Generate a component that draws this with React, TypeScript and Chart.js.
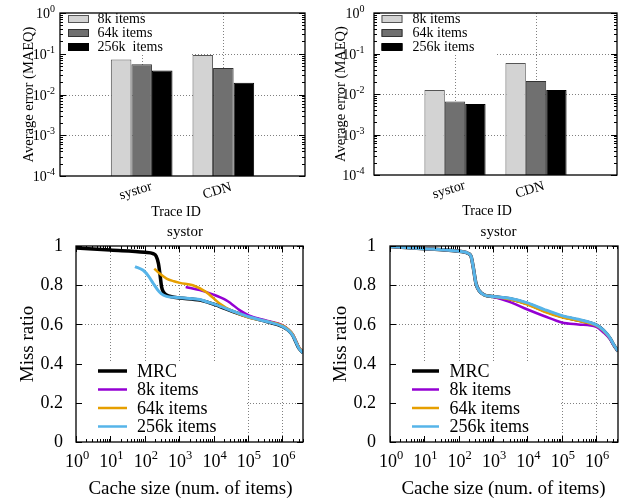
import React, { useEffect, useRef } from 'react';
import { Chart, registerables } from 'chart.js';

Chart.register(...registerables);

const SERIF = '"Liberation Serif", "Times New Roman", Times, serif';

// ---------------- Top panels: average error (MAEQ) per trace ----------------
const TRACES = ['', 'systor', 'CDN', ''];
const LEFT_LEGEND = ['8k items', '64k items', '256k  items'];
const RIGHT_LEGEND = ['8k items', '64k items', '256k items'];
const LEFT_ERR_8K = [null, 0.072, 0.093, null];
const LEFT_ERR_64K = [null, 0.055, 0.045, null];
const LEFT_ERR_256K = [null, 0.039, 0.0195, null];
const RIGHT_ERR_8K = [null, 0.0126, 0.058, null];
const RIGHT_ERR_64K = [null, 0.0065, 0.021, null];
const RIGHT_ERR_256K = [null, 0.0057, 0.0126, null];
const ERR_EXPONENTS = [0, -1, -2, -3, -4];
const BAR_FILLS = ['#d3d3d3', '#707070', '#000000'];
const BAR_EDGES = ['#555555', '#333333', '#000000'];

// ---------------- Bottom panels: miss ratio curves ----------------
const CURVE_NAMES = ['MRC', '8k items', '64k items', '256k items'];
const CURVE_COLORS = ['#000000', '#9400d3', '#e69f00', '#56b4e9'];
const CURVE_WIDTHS = [3.5, 2.5, 2.5, 3];
const MISS_TICKS = [0, 0.2, 0.4, 0.6, 0.8, 1];
const SIZE_EXPONENTS = [0, 1, 2, 3, 4, 5, 6];

type Pt = [number, number];

const LEFT_MRC: Pt[] = [[1, 0.99], [10, 0.979], [100, 0.968], [175, 0.961], [215, 0.948], [250, 0.91], [275, 0.86], [310, 0.79], [350, 0.765], [430, 0.75], [600, 0.741], [1000, 0.735], [4000, 0.724], [12000, 0.699], [37000, 0.665], [110000, 0.637], [350000, 0.614], [1000000, 0.59], [1500000, 0.57], [2000000, 0.545], [2500000, 0.51], [3000000, 0.48], [4000000, 0.455]];
const LEFT_8K: Pt[] = [[1550, 0.791], [4000, 0.775], [10000, 0.752], [23000, 0.724], [32000, 0.707], [57000, 0.673], [110000, 0.645], [350000, 0.619], [1000000, 0.596], [1500000, 0.575], [2000000, 0.55], [2500000, 0.515], [3000000, 0.485], [4000000, 0.46]];
const LEFT_64K: Pt[] = [[190, 0.885], [260, 0.862], [430, 0.834], [700, 0.82], [1050, 0.812], [2500, 0.8], [6000, 0.766], [15000, 0.707], [37000, 0.666], [110000, 0.634], [350000, 0.616], [1000000, 0.595], [1500000, 0.574], [2000000, 0.55], [2500000, 0.515], [3000000, 0.485], [4000000, 0.46]];
const LEFT_256K: Pt[] = [[52, 0.895], [90, 0.876], [130, 0.845], [175, 0.81], [240, 0.775], [300, 0.757], [430, 0.743], [700, 0.738], [1600, 0.734], [4000, 0.727], [6000, 0.717], [12000, 0.7], [37000, 0.667], [110000, 0.638], [350000, 0.615], [1000000, 0.59], [1500000, 0.57], [2000000, 0.545], [2500000, 0.51], [3000000, 0.48], [4000000, 0.455]];

const RIGHT_MRC: Pt[] = [[1, 0.997], [10, 0.986], [100, 0.973], [200, 0.96], [230, 0.945], [265, 0.89], [316, 0.81], [400, 0.77], [560, 0.75], [1000, 0.742], [3000, 0.731], [10000, 0.706], [30000, 0.672], [100000, 0.641], [300000, 0.622], [1000000, 0.596], [1600000, 0.57], [2500000, 0.53], [3200000, 0.497], [4300000, 0.463]];
const RIGHT_8K: Pt[] = [[1, 0.997], [10, 0.986], [100, 0.973], [200, 0.96], [230, 0.945], [265, 0.89], [316, 0.81], [400, 0.77], [560, 0.75], [1000, 0.741], [3000, 0.715], [10000, 0.676], [30000, 0.643], [100000, 0.61], [300000, 0.6], [1000000, 0.588], [1600000, 0.56], [2500000, 0.525], [3200000, 0.495], [4300000, 0.463]];
const RIGHT_64K: Pt[] = [[1, 0.997], [10, 0.986], [100, 0.973], [200, 0.96], [230, 0.945], [265, 0.89], [316, 0.81], [400, 0.77], [560, 0.75], [1000, 0.742], [3000, 0.728], [10000, 0.701], [30000, 0.666], [100000, 0.636], [300000, 0.618], [1000000, 0.594], [1600000, 0.569], [2500000, 0.53], [3200000, 0.497], [4300000, 0.463]];
const RIGHT_256K: Pt[] = [[1, 0.997], [10, 0.986], [100, 0.973], [200, 0.96], [230, 0.945], [265, 0.89], [316, 0.81], [400, 0.77], [560, 0.75], [1000, 0.742], [3000, 0.733], [10000, 0.71], [30000, 0.677], [100000, 0.645], [300000, 0.626], [1000000, 0.598], [1600000, 0.572], [2500000, 0.532], [3200000, 0.498], [4300000, 0.463]];

// ---------------- drawing helpers ----------------
function seg(ctx: CanvasRenderingContext2D, x1: number, y1: number, x2: number, y2: number) {
  ctx.beginPath();
  ctx.moveTo(x1, y1);
  ctx.lineTo(x2, y2);
  ctx.stroke();
}

function pow10(ctx: CanvasRenderingContext2D, exp: number, x: number, baseline: number, align: 'right' | 'center', baseSize: number, expSize: number, raise: number) {
  const base = '10';
  const sup = String(exp);
  ctx.font = `${baseSize}px ${SERIF}`;
  const wb = ctx.measureText(base).width;
  ctx.font = `${expSize}px ${SERIF}`;
  const we = ctx.measureText(sup).width;
  const total = wb + we;
  const x0 = align === 'right' ? x - total : x - total / 2;
  ctx.textAlign = 'left';
  ctx.textBaseline = 'alphabetic';
  ctx.font = `${baseSize}px ${SERIF}`;
  ctx.fillText(base, x0, baseline);
  ctx.font = `${expSize}px ${SERIF}`;
  ctx.fillText(sup, x0 + wb, baseline - raise);
}

interface BarGeom {
  W: number; H: number; l: number; r: number; t: number; b: number;
  labelRight: number; yTitleX: number; boxR: number; boxB: number;
  keyX0: number; keyX1: number; keyTextX: number; traceX: number;
}

function BarPanel({ g, series, legend, left, top }: { g: BarGeom; series: (number | null)[][]; legend: string[]; left: number; top: number }) {
  const ref = useRef<HTMLCanvasElement>(null);
  useEffect(() => {
    const canvas = ref.current!;
    const decor = {
      id: 'barDecor',
      beforeDatasetsDraw(chart: any) {
        const { ctx, chartArea: a, scales } = chart;
        const xs = scales.x, ys = scales.y;
        ctx.save();
        ctx.strokeStyle = '#808080';
        ctx.lineWidth = 1;
        ctx.setLineDash([1, 2]);
        for (const e of [-1, -2, -3]) {
          const y = Math.round(ys.getPixelForValue(Math.pow(10, e))) + 0.5;
          seg(ctx, a.left, y, a.right, y);
        }
        for (const i of [1, 2]) {
          const x = Math.round(xs.getPixelForValue(i)) + 0.5;
          seg(ctx, x, a.top, x, a.bottom);
        }
        ctx.setLineDash([]);
        ctx.fillStyle = '#ffffff';
        ctx.fillRect(a.left + 1, a.top + 1, g.boxR - a.left - 1, g.boxB - a.top - 1);
        ctx.restore();
      },
      afterDatasetsDraw(chart: any) {
        const { ctx, chartArea: a, scales } = chart;
        const xs = scales.x, ys = scales.y;
        ctx.save();
        ctx.strokeStyle = '#000';
        ctx.lineWidth = 1;
        for (const e of ERR_EXPONENTS) {
          const y = Math.round(ys.getPixelForValue(Math.pow(10, e))) + 0.5;
          seg(ctx, a.left, y, a.left + 6, y);
          seg(ctx, a.right - 6, y, a.right, y);
          if (e < 0) {
            for (let m = 2; m <= 9; m++) {
              const ym = Math.round(ys.getPixelForValue(m * Math.pow(10, e))) + 0.5;
              seg(ctx, a.left, ym, a.left + 3, ym);
              seg(ctx, a.right - 3, ym, a.right, ym);
            }
          }
        }
        ctx.lineWidth = 1.3;
        ctx.strokeRect(a.left, a.top, a.right - a.left, a.bottom - a.top);
        ctx.fillStyle = '#000';
        for (const e of ERR_EXPONENTS) {
          const y = ys.getPixelForValue(Math.pow(10, e));
          pow10(ctx, e, g.labelRight, y + 5, 'right', 14, 10, 6);
        }
        // y title
        ctx.save();
        ctx.translate(g.yTitleX, (a.top + a.bottom) / 2);
        ctx.rotate(-Math.PI / 2);
        ctx.font = `14.5px ${SERIF}`;
        ctx.textAlign = 'center';
        ctx.textBaseline = 'middle';
        ctx.fillText('Average error (MAEQ)', 0, 0);
        ctx.restore();
        // category labels
        for (const i of [1, 2]) {
          const x = xs.getPixelForValue(i);
          ctx.save();
          ctx.translate(x - 6, a.bottom + 15);
          ctx.rotate(-17 * Math.PI / 180);
          ctx.font = `14px ${SERIF}`;
          ctx.textAlign = 'center';
          ctx.textBaseline = 'middle';
          ctx.fillText(TRACES[i], 0, 0);
          ctx.restore();
        }
        ctx.font = `14px ${SERIF}`;
        ctx.textAlign = 'center';
        ctx.textBaseline = 'middle';
        ctx.fillText('Trace ID', g.traceX, a.bottom + 36);
        // legend
        legend.forEach((name, k) => {
          const yc = a.top + 6 + k * 14;
          ctx.fillStyle = BAR_FILLS[k];
          ctx.fillRect(g.keyX0, yc - 3.5, g.keyX1 - g.keyX0, 7);
          ctx.strokeStyle = BAR_EDGES[k];
          ctx.lineWidth = 1;
          ctx.strokeRect(g.keyX0 + 0.5, yc - 3.5, g.keyX1 - g.keyX0 - 1, 7);
          ctx.fillStyle = '#000';
          ctx.font = `14px ${SERIF}`;
          ctx.textAlign = 'left';
          ctx.textBaseline = 'middle';
          ctx.fillText(name, g.keyTextX, yc);
        });
        ctx.restore();
      },
    };
    const chart = new Chart(canvas, {
      type: 'bar',
      data: {
        labels: TRACES,
        datasets: series.map((d, k) => ({
          label: RIGHT_LEGEND[k],
          data: d as any,
          backgroundColor: BAR_FILLS[k],
          borderColor: BAR_EDGES[k],
          borderWidth: 1,
          categoryPercentage: 0.755,
          barPercentage: 1,
        })),
      },
      options: {
        animation: false,
        responsive: false,
        devicePixelRatio: 1,
        events: [],
        layout: { padding: { left: g.l, right: g.W - g.r, top: g.t, bottom: g.H - g.b } },
        plugins: { legend: { display: false }, tooltip: { enabled: false }, title: { display: false } },
        scales: {
          x: { type: 'category', offset: false, display: false, grid: { offset: false } },
          y: { type: 'logarithmic', min: 1e-4, max: 1, display: false },
        },
      } as any,
      plugins: [decor],
    });
    return () => chart.destroy();
  }, []);
  return <canvas ref={ref} width={g.W} height={g.H} style={{ position: 'absolute', left, top, width: g.W, height: g.H }} />;
}

interface MrcGeom {
  W: number; H: number; l: number; r: number; t: number; b: number; xMax: number;
  labelRight: number; yTitleX: number; titleX: number; xTitleX: number;
  keyX0: number; keyX1: number; keyTextX: number; keyY: number[];
}

function MrcPanel({ g, curves, left, top }: { g: MrcGeom; curves: Pt[][]; left: number; top: number }) {
  const ref = useRef<HTMLCanvasElement>(null);
  useEffect(() => {
    const canvas = ref.current!;
    const decor = {
      id: 'mrcDecor',
      beforeDatasetsDraw(chart: any) {
        const { ctx, chartArea: a, scales } = chart;
        const xs = scales.x, ys = scales.y;
        ctx.save();
        ctx.strokeStyle = '#808080';
        ctx.lineWidth = 1;
        ctx.setLineDash([1, 2]);
        for (const v of MISS_TICKS.slice(1, -1)) {
          const y = Math.round(ys.getPixelForValue(v)) + 0.5;
          seg(ctx, a.left, y, a.right, y);
        }
        for (const e of SIZE_EXPONENTS.slice(1)) {
          const x = Math.round(xs.getPixelForValue(Math.pow(10, e))) + 0.5;
          seg(ctx, x, a.top, x, a.bottom);
        }
        ctx.setLineDash([]);
        const bx = xs.getPixelForValue(1e5) - 1;
        const by = ys.getPixelForValue(0.4) - 1.5;
        ctx.fillStyle = '#ffffff';
        ctx.fillRect(a.left + 1, by, bx - a.left - 1, a.bottom - by - 1);
        ctx.restore();
      },
      afterDatasetsDraw(chart: any) {
        const { ctx, chartArea: a, scales } = chart;
        const xs = scales.x, ys = scales.y;
        ctx.save();
        ctx.strokeStyle = '#000';
        ctx.lineWidth = 1;
        for (const e of SIZE_EXPONENTS) {
          const x = Math.round(xs.getPixelForValue(Math.pow(10, e))) + 0.5;
          seg(ctx, x, a.bottom, x, a.bottom - 6);
          seg(ctx, x, a.top, x, a.top + 6);
          for (let m = 2; m <= 9; m++) {
            const v = m * Math.pow(10, e);
            if (v > g.xMax) break;
            const xm = Math.round(xs.getPixelForValue(v)) + 0.5;
            seg(ctx, xm, a.bottom, xm, a.bottom - 3);
            seg(ctx, xm, a.top, xm, a.top + 3);
          }
        }
        for (const v of MISS_TICKS) {
          const y = Math.round(ys.getPixelForValue(v)) + 0.5;
          seg(ctx, a.left, y, a.left + 6, y);
          seg(ctx, a.right - 6, y, a.right, y);
        }
        ctx.lineWidth = 1.3;
        ctx.strokeRect(a.left, a.top, a.right - a.left, a.bottom - a.top);
        ctx.fillStyle = '#000';
        // y tick labels
        ctx.font = `18px ${SERIF}`;
        ctx.textAlign = 'right';
        ctx.textBaseline = 'middle';
        for (const v of MISS_TICKS) {
          ctx.fillText(String(v), g.labelRight, ys.getPixelForValue(v) + 0.5);
        }
        // x tick labels
        for (const e of SIZE_EXPONENTS) {
          pow10(ctx, e, xs.getPixelForValue(Math.pow(10, e)) + 1, a.bottom + 25, 'center', 18, 12.5, 8);
        }
        // titles
        ctx.font = `15px ${SERIF}`;
        ctx.textAlign = 'center';
        ctx.textBaseline = 'middle';
        ctx.fillText('systor', g.titleX, a.top - 14);
        ctx.font = `19px ${SERIF}`;
        ctx.fillText('Cache size (num. of items)', g.xTitleX, a.bottom + 47);
        ctx.save();
        ctx.translate(g.yTitleX, (a.top + a.bottom) / 2);
        ctx.rotate(-Math.PI / 2);
        ctx.fillText('Miss ratio', 0, 0);
        ctx.restore();
        // legend
        CURVE_NAMES.forEach((name, k) => {
          const y = g.keyY[k];
          ctx.strokeStyle = CURVE_COLORS[k];
          ctx.lineWidth = k === 0 ? 3.5 : 2.5;
          seg(ctx, g.keyX0, y, g.keyX1, y);
          ctx.fillStyle = '#000';
          ctx.font = `18px ${SERIF}`;
          ctx.textAlign = 'left';
          ctx.textBaseline = 'middle';
          ctx.fillText(name, g.keyTextX, y + 1);
        });
        ctx.restore();
      },
    };
    const chart = new Chart(canvas, {
      type: 'line',
      data: {
        datasets: curves.map((c, k) => ({
          label: CURVE_NAMES[k],
          data: c.map(([x, y]) => ({ x, y })),
          borderColor: CURVE_COLORS[k],
          borderWidth: CURVE_WIDTHS[k],
          pointRadius: 0,
          fill: false,
          cubicInterpolationMode: 'monotone',
          order: 4 - k,
        })),
      },
      options: {
        animation: false,
        responsive: false,
        devicePixelRatio: 1,
        events: [],
        layout: { padding: { left: g.l, right: g.W - g.r, top: g.t, bottom: g.H - g.b } },
        plugins: { legend: { display: false }, tooltip: { enabled: false }, title: { display: false } },
        scales: {
          x: { type: 'logarithmic', min: 1, max: g.xMax, display: false },
          y: { type: 'linear', min: 0, max: 1, display: false },
        },
      } as any,
      plugins: [decor],
    });
    return () => chart.destroy();
  }, []);
  return <canvas ref={ref} width={g.W} height={g.H} style={{ position: 'absolute', left, top, width: g.W, height: g.H }} />;
}

const TL: BarGeom = { W: 311, H: 230, l: 60, r: 305, t: 13, b: 176, labelRight: 55, yTitleX: 29, boxR: 192, boxB: 55, keyX0: 68, keyX1: 89, keyTextX: 97.5, traceX: 176 };
const TR: BarGeom = { W: 311, H: 230, l: 63, r: 306, t: 13, b: 175, labelRight: 53.5, yTitleX: 30, boxR: 185, boxB: 55, keyX0: 70.5, keyX1: 91.5, keyTextX: 101.5, traceX: 176 };
const BL: MrcGeom = { W: 311, H: 278, l: 76, r: 303, t: 24, b: 220, xMax: 4e6, labelRight: 63, yTitleX: 28.5, titleX: 185, xTitleX: 190.5, keyX0: 98, keyX1: 127, keyTextX: 137, keyY: [149, 167.5, 186, 204.5] };
const BR: MrcGeom = { W: 311, H: 278, l: 79, r: 307, t: 24, b: 220, xMax: 4.3e6, labelRight: 65, yTitleX: 30, titleX: 187.5, xTitleX: 192.5, keyX0: 101, keyX1: 128, keyTextX: 138.5, keyY: [149, 167.5, 186, 204.5] };

export default function App() {
  return (
    <div style={{ position: 'fixed', left: 0, top: 0, width: 622, height: 500, background: '#ffffff', overflow: 'hidden' }}>
      <BarPanel g={TL} series={[LEFT_ERR_8K, LEFT_ERR_64K, LEFT_ERR_256K]} legend={LEFT_LEGEND} left={0} top={0} />
      <BarPanel g={TR} series={[RIGHT_ERR_8K, RIGHT_ERR_64K, RIGHT_ERR_256K]} legend={RIGHT_LEGEND} left={311} top={0} />
      <MrcPanel g={BL} curves={[LEFT_MRC, LEFT_8K, LEFT_64K, LEFT_256K]} left={0} top={222} />
      <MrcPanel g={BR} curves={[RIGHT_MRC, RIGHT_8K, RIGHT_64K, RIGHT_256K]} left={311} top={222} />
    </div>
  );
}
